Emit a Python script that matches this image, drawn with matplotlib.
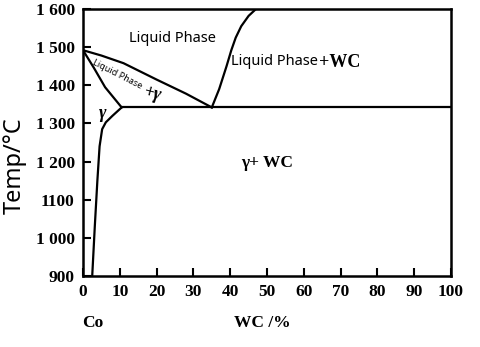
import matplotlib
matplotlib.use("Agg")
import matplotlib.pyplot as plt

# phase boundaries of the Co-WC section (WC %, temperature °C)
liquidus_left_x = [0, 5, 11, 20, 28, 35]
liquidus_left_t = [1492, 1478, 1458, 1415, 1378, 1342]

solidus_x = [0, 3, 6, 10.5]
solidus_t = [1492, 1445, 1395, 1342]

solvus_x = [10.5, 8, 6.2, 5.2, 4.5, 3.9, 3.2, 2.5]
solvus_t = [1342, 1320, 1303, 1285, 1240, 1150, 1030, 900]

liquidus_right_x = [35, 37, 39, 40.3, 41.5, 43, 45, 47]
liquidus_right_t = [1342, 1390, 1450, 1492, 1525, 1555, 1582, 1600]

eutectic_x = [10.5, 100]
eutectic_t = [1342, 1342]

xticks = [0, 10, 20, 30, 40, 50, 60, 70, 80, 90, 100]
yticks = [900, 1000, 1100, 1200, 1300, 1400, 1500, 1600]
ylabels = ["900", "1 000", "1100", "1 200", "1 300", "1 400", "1 500", "1 600"]

serif = "Liberation Serif"
sans = "Noto Sans"

fig = plt.figure(figsize=(4.81, 3.47), dpi=100)
ax = fig.add_axes([0.1726, 0.2046, 0.765, 0.7694])

lw = 1.6
ax.plot(liquidus_left_x, liquidus_left_t, color="black", lw=lw)
ax.plot(solidus_x, solidus_t, color="black", lw=lw)
ax.plot(solvus_x, solvus_t, color="black", lw=lw)
ax.plot(liquidus_right_x, liquidus_right_t, color="black", lw=lw)
ax.plot(eutectic_x, eutectic_t, color="black", lw=lw)

ax.set_xlim(0, 100)
ax.set_ylim(900, 1600)
ax.set_xticks(xticks)
ax.set_yticks(yticks)
ax.set_yticklabels(ylabels)
ax.tick_params(direction="in", length=6, width=1.5, pad=6)
for lab in ax.get_xticklabels() + ax.get_yticklabels():
    lab.set_fontfamily(serif)
    lab.set_fontsize(12.5)
    lab.set_fontweight("bold")
for s in ax.spines.values():
    s.set_linewidth(1.8)

# region labels
ax.text(24.2, 1524, "Liquid Phase", family=sans, fontsize=10.5,
        ha="center", va="center")
ax.text(63.8, 1462, "Liquid Phase", family=sans, fontsize=10.5,
        ha="right", va="center")
ax.text(64.2, 1460, "+WC", family=serif, fontsize=13, fontweight="bold",
        ha="left", va="center")
ax.text(9.3, 1428, "Liquid Phase", family=sans, fontsize=6.5,
        ha="center", va="center", rotation=-27)
ax.text(18.8, 1378, "+\u03b3", family=serif, fontsize=13, fontweight="bold",
        style="italic", ha="center", va="center", rotation=-15)
ax.text(5.3, 1325, "\u03b3", family=serif, fontsize=13, fontweight="bold",
        style="italic", ha="center", va="center")
ax.text(50, 1196, "\u03b3+ WC", family=serif, fontsize=12.5, fontweight="bold",
        ha="center", va="center")

ax.text(2.7, -0.175, "Co", transform=ax.get_xaxis_transform(),
        family=serif, fontsize=12.5, fontweight="bold", ha="center", va="center")
ax.text(48.6, -0.175, "WC /%", transform=ax.get_xaxis_transform(),
        family=serif, fontsize=12.5, fontweight="bold", ha="center", va="center")

fig.text(15 / 481, 1 - 166 / 347, "Temp/°C", family=sans, fontsize=17,
         rotation=90, ha="center", va="center")

fig.savefig("out.png", dpi=100)
